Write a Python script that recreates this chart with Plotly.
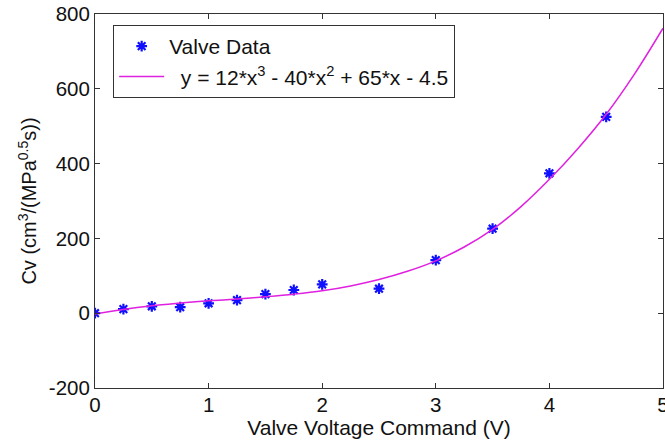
import plotly.graph_objects as go

# Measured valve data
data_x = [0, 0.25, 0.5, 0.75, 1.0, 1.25, 1.5, 1.75, 2.0, 2.5, 3.0, 3.5, 4.0, 4.5]
data_y = [0, 11, 18.5, 16, 26.5, 35, 51, 62, 77, 65.5, 142, 226, 374, 525]

# Fitted curve
fit_x = [0, 0.25, 0.5, 0.75, 1.0, 1.25, 1.5, 1.75, 2.0, 2.25, 2.5, 2.75, 3.0,
         3.25, 3.5, 3.75, 4.0, 4.25, 4.5, 4.75, 5.0]
fit_y = [-2, 10, 20, 27, 33, 38, 44, 51, 60, 73, 90, 112, 140,
         177, 224, 285, 358, 440, 532, 640, 762]

x_ticks = [0, 1, 2, 3, 4, 5]
y_ticks = [-200, 0, 200, 400, 600, 800]

FONT = "Liberation Sans, Arial, sans-serif"

fig = go.Figure()
fig.add_trace(go.Scatter(
    x=data_x, y=data_y, mode="markers", name="Valve Data",
    marker=dict(symbol="asterisk-open", size=9, color="#1010ff",
                line=dict(width=2.2, color="#1010ff")),
    legendgroup="a",
))
fig.add_trace(go.Scatter(
    x=fit_x, y=fit_y, mode="lines",
    name="  y = 12*x<sup>3</sup> - 40*x<sup>2</sup> + 65*x - 4.5",
    line=dict(color="#e020e0", width=1.5, shape="spline"),
    legendgroup="b",
))

axis_common = dict(
    showline=True, linecolor="#333333", linewidth=1, mirror="ticks",
    ticks="inside", ticklen=5, tickcolor="#333333", showgrid=False,
    zeroline=False, automargin=False, ticklabeloverflow="allow",
    tickfont=dict(family=FONT, size=20.5, color="#111111"),
)

fig.update_layout(
    template="none",
    width=665, height=442,
    margin=dict(l=95, r=2, t=14, b=54),
    paper_bgcolor="white", plot_bgcolor="white",
    font=dict(family=FONT, size=20, color="#111111"),
    xaxis=dict(range=[0, 5], tickvals=x_ticks, ticktext=[str(v) for v in x_ticks],
               ticklabelstandoff=-2,
               title=dict(text="Valve Voltage Command (V)", standoff=0,
                          font=dict(family=FONT, size=21)),
               **axis_common),
    yaxis=dict(range=[-200, 800], tickvals=y_ticks, ticktext=[str(v) for v in y_ticks],
               title=dict(text="Cv (cm<sup>3</sup>/(MPa<sup>0.5</sup>s))", standoff=6,
                          font=dict(family=FONT, size=20)),
               **axis_common),
    legend=dict(x=0.032, y=0.9706, xanchor="left", yanchor="top",
                bgcolor="white", bordercolor="#333333", borderwidth=1,
                font=dict(family=FONT, size=21, color="#111111"),
                itemwidth=45, tracegroupgap=0, traceorder="grouped"),
    showlegend=True,
)

fig.write_html("out.html")
